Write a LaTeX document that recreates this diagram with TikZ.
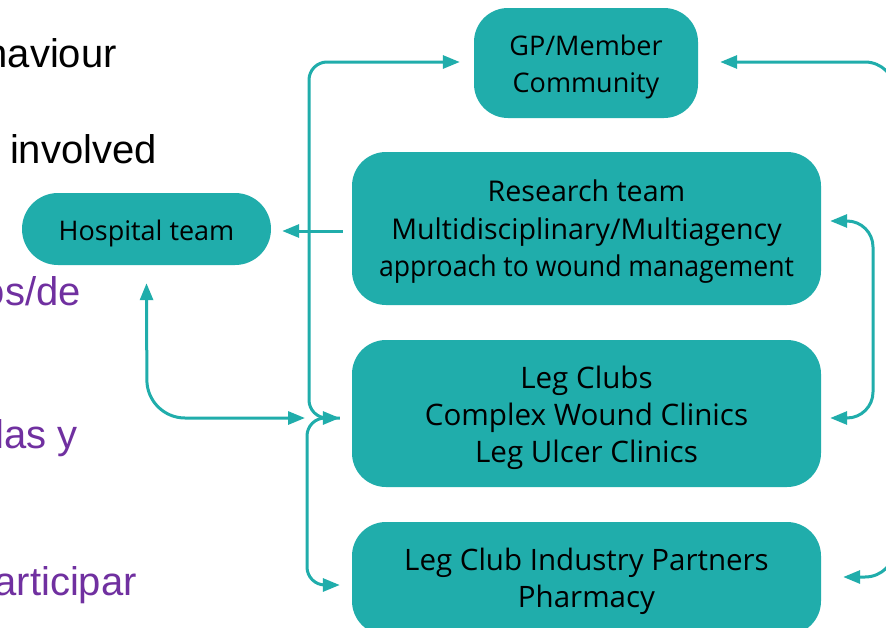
\documentclass[tikz,border=0pt]{standalone}
\usepackage{fontspec}
\setmainfont{Open Sans}
\newfontfamily\slidefont{Liberation Sans}
\usetikzlibrary{arrows.meta}
\definecolor{teal}{HTML}{20ADAB}
\definecolor{slidepurple}{HTML}{7030A0}
% centred lines, lowered a little inside their box (reported size kept)
\newcommand{\boxlines}[2][4pt]{\raisebox{-#1}[\height][\depth]{\begin{tabular}{@{}c@{}}#2\end{tabular}}}
\begin{document}
\begin{tikzpicture}[x=1pt,y=-1pt,
  box/.style={fill=teal, draw=none, rounded corners=34pt, align=center,
    text=black, inner sep=0pt},
  link/.style={draw=teal, line width=3pt, rounded corners=18pt,
    arrows={Triangle[length=17pt,width=13pt]-Triangle[length=17pt,width=13pt]}},
  oneway/.style={draw=teal, line width=3pt,
    -{Triangle[length=17pt,width=13pt]}},
  bullet/.style={font=\slidefont\fontsize{40}{44}\selectfont, anchor=base east, inner sep=0pt}]
\useasboundingbox (0,0) rectangle (886,627);
\clip (0,0) rectangle (886,627);
\fill[white] (0,0) rectangle (886,627);

% slide text running off the left edge
\node[bullet, text=black] (t1) at (117,67) {haviour};
\node[bullet, text=black] (t2) at (157,163) {involved};
\node[bullet, text=slidepurple] (t3) at (81,305) {os/de};
\node[bullet, text=slidepurple] (t4) at (78,448) {las y};
\node[bullet, text=slidepurple] (t5) at (137,595) {articipar};

% boxes
\node[box, minimum width=224pt, minimum height=110pt, font=\fontsize{27}{37}\selectfont] (gp) at (586,63)
  {\boxlines[4pt]{GP/Member\\Community}};
\node[box, minimum width=469pt, minimum height=153pt, font=\fontsize{28.6}{37.5}\selectfont] (rt) at (586.5,228.5)
  {\boxlines[3pt]{Research team\\Multidisciplinary/Multiagency\\\scalebox{0.93}[1]{approach to wound management}}};
\node[box, minimum width=469pt, minimum height=147pt, font=\fontsize{29.6}{37}\selectfont] (lc) at (586.5,413.5)
  {\boxlines[5pt]{Leg Clubs\\Complex Wound Clinics\\Leg Ulcer Clinics}};
\node[box, minimum width=469pt, minimum height=113pt, font=\fontsize{29.5}{37}\selectfont] (ip) at (586.5,578.5)
  {\boxlines[3pt]{Leg Club Industry Partners\\Pharmacy}};
\node[box, rounded corners=36pt, minimum width=249pt, minimum height=72pt, font=\fontsize{27}{37}\selectfont] (ht) at (146.5,229)
  {\raisebox{-4pt}[\height][\depth]{Hospital team}};

% junction points on the left of the Leg Clubs box
\coordinate (lcin) at ([xshift=-12pt]lc.west |- 0,418);
\coordinate (lcjoin) at (305,418);

% connectors
\draw[link] (lcin) -- (309,418) -- (309,62) -- ([xshift=-14pt]gp.west |- 0,62);
\draw[oneway, rounded corners=18pt] (lcin) -- (307,418) -- (307,585) -- ([xshift=-12pt]ip.west |- 0,585);
\draw[link, rounded corners=38pt] ([yshift=-18pt]ht.south) -- (147,418) -- (lcjoin);
\draw[oneway] ([xshift=-9pt]rt.west |- 0,231) -- ([xshift=11pt]ht.east |- 0,231);
\draw[link, rounded corners=26pt] ([xshift=9pt]rt.east |- 0,221) -- (873,221) -- (873,418) -- ([xshift=9pt]lc.east |- 0,418);
\draw[link, rounded corners=30pt] ([xshift=22pt]gp.east |- 0,62) -- (895,62) -- (895,577) -- ([xshift=22pt]ip.east |- 0,577);
\end{tikzpicture}
\end{document}
